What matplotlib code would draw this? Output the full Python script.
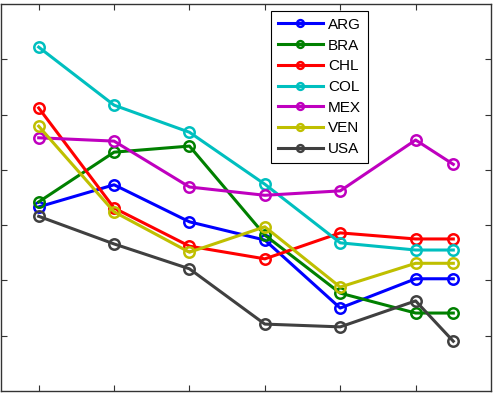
import matplotlib
matplotlib.use("Agg")
import matplotlib.pyplot as plt

x = [1, 2, 3, 4, 5, 6, 6.5]
series = {
    "ARG": [3.33, 3.73, 3.06, 2.73, 1.50, 2.03, 2.03],
    "BRA": [3.42, 4.32, 4.43, 2.82, 1.77, 1.41, 1.41],
    "CHL": [5.12, 3.31, 2.62, 2.39, 2.86, 2.75, 2.75],
    "COL": [6.22, 5.17, 4.68, 3.74, 2.68, 2.55, 2.55],
    "MEX": [4.58, 4.52, 3.69, 3.54, 3.62, 4.54, 4.10],
    "VEN": [4.79, 3.24, 2.51, 2.97, 1.88, 2.31, 2.31],
    "USA": [3.16, 2.66, 2.21, 1.21, 1.16, 1.63, 0.90],
}
colors = {
    "ARG": (0, 0, 1), "BRA": (0, 0.5, 0), "CHL": (1, 0, 0),
    "COL": (0, 0.75, 0.75), "MEX": (0.75, 0, 0.75),
    "VEN": (0.75, 0.75, 0), "USA": (0.25, 0.25, 0.25),
}
xticks = [1, 2, 3, 4, 5, 6]
yticks = [1, 2, 3, 4, 5, 6]

plt.rcParams['font.family'] = ['Liberation Sans', 'DejaVu Sans']
fig = plt.figure(figsize=(4.93, 3.93), dpi=100)
ax = fig.add_axes([1/493, 2/393, 490/493, 387/393])
for name, vals in series.items():
    ax.plot(x, vals, '-o', color=colors[name], lw=2.2, ms=7.5, mew=1.8,
            mfc='none', label=name)
ax.set_xlim(0.5, 7.0)
ax.set_ylim(0, 7)
ax.set_xticks(xticks)
ax.set_yticks(yticks)
ax.tick_params(direction='in', top=True, right=True, labelbottom=False,
               labelleft=False, length=4, width=0.8, color='#333333')
for s in ax.spines.values():
    s.set_color('#333333')
    s.set_linewidth(1.0)
leg = ax.legend(loc='upper left', bbox_to_anchor=(0.551, 0.982), borderaxespad=0,
                fontsize=11, handlelength=2.95, handletextpad=0.33, labelspacing=0.44,
                borderpad=0.45, markerscale=0.65, fancybox=False, framealpha=1,
                edgecolor='black')
leg.get_frame().set_linewidth(0.8)
fig.savefig("out.png", dpi=100)
